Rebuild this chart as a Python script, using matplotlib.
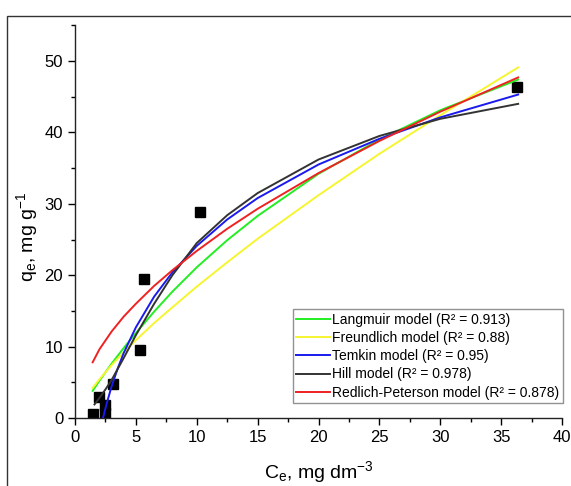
import matplotlib
matplotlib.use("Agg")
import matplotlib.pyplot as plt
from matplotlib.patches import Rectangle
from matplotlib.ticker import MultipleLocator

# experimental points
c_exp = [1.45, 1.95, 2.45, 2.5, 3.15, 5.35, 5.7, 10.3, 36.3]
q_exp = [0.6, 2.9, 1.8, 0.7, 4.8, 9.5, 19.4, 28.9, 46.3]

# model curves
c_fit = [1.45, 2, 3, 4, 5, 6.5, 8, 10, 12.5, 15, 20, 25, 30, 36.4]
q_langmuir = [3.8, 5.2, 7.6, 9.8, 11.9, 14.9, 17.7, 21.1, 24.9, 28.3, 34.2, 39.0, 43.1, 47.4]
q_freundlich = [4.2, 5.4, 7.4, 9.2, 10.9, 13.3, 15.5, 18.4, 21.8, 25.1, 31.2, 37.0, 42.4, 49.1]
q_rp = [7.8, 9.6, 12.1, 14.2, 16.0, 18.5, 20.7, 23.4, 26.5, 29.3, 34.3, 38.8, 42.9, 47.7]

c_temkin = [2.3, 2.6, 3, 3.5, 4, 5, 6.5, 8, 10, 12.5, 15, 20, 25, 30, 36.4]
q_temkin = [0.0, 2.0, 4.4, 6.9, 9.1, 12.7, 17.0, 20.4, 24.1, 27.8, 30.8, 35.5, 39.1, 42.1, 45.3]

c_hill = [1.6, 2, 2.5, 3, 4, 5, 6.5, 8, 10, 12.5, 15, 20, 25, 30, 36.4]
q_hill = [1.9, 2.8, 4.0, 5.3, 8.4, 11.6, 16.0, 20.0, 24.5, 28.4, 31.5, 36.2, 39.5, 41.9, 44.0]

labels = ['Langmuir model (R² = 0.913)',
          'Freundlich model (R² = 0.88)',
          'Temkin model (R² = 0.95)',
          'Hill model (R² = 0.978)',
          'Redlich-Peterson model (R² = 0.878)']

plt.rcParams['font.family'] = ['Liberation Sans', 'DejaVu Sans']
plt.rcParams['mathtext.default'] = 'regular'

fig = plt.figure(figsize=(5.71, 4.86), dpi=100)
ax = fig.add_axes([75 / 571, 68 / 486, 487 / 571, 392.7 / 486])

# outer frame
fig.add_artist(Rectangle((7 / 571, -0.1), 1.0, 0.1 + 470 / 486, transform=fig.transFigure,
                         fill=False, edgecolor='#333333', linewidth=1.0))

ax.plot(c_exp, q_exp, 's', color='black', markersize=6.5, linestyle='', zorder=2)
ax.plot(c_fit, q_langmuir, color='#22ee22', lw=1.4, label=labels[0], zorder=3)
ax.plot(c_fit, q_freundlich, color='#f5f530', lw=1.4, label=labels[1], zorder=3)
ax.plot(c_temkin, q_temkin, color='#1a1aee', lw=1.4, label=labels[2], zorder=3)
ax.plot(c_hill, q_hill, color='#333333', lw=1.4, label=labels[3], zorder=3)
ax.plot(c_fit, q_rp, color='#ee2222', lw=1.4, label=labels[4], zorder=3)

ax.set_xlim(0, 40)
ax.set_ylim(0, 55)
ax.xaxis.set_major_locator(MultipleLocator(5))
ax.xaxis.set_minor_locator(MultipleLocator(2.5))
ax.yaxis.set_major_locator(MultipleLocator(10))
ax.yaxis.set_minor_locator(MultipleLocator(5))
ax.tick_params(which='major', direction='out', length=5, width=1, labelsize=12)
ax.tick_params(which='minor', direction='out', length=3, width=1)

for side in ['top', 'right']:
    ax.spines[side].set_visible(False)
for side in ['left', 'bottom']:
    ax.spines[side].set_linewidth(1.0)
    ax.spines[side].set_color('#222222')

ax.set_xlabel('C$_e$, mg dm$^{-3}$', fontsize=14, labelpad=10)
ax.set_ylabel('q$_e$, mg g$^{-1}$', fontsize=14)
ax.yaxis.set_label_coords(-0.072, 0.461)

leg = ax.legend(loc='lower right', bbox_to_anchor=(1.002, 0.038), borderaxespad=0,
                fontsize=10, frameon=True, fancybox=False, handlelength=2.4,
                handletextpad=0.2, labelspacing=0.3, borderpad=0.25)
leg.get_frame().set_edgecolor('#777777')
leg.get_frame().set_linewidth(1.0)

fig.savefig('out.png', dpi=100)
